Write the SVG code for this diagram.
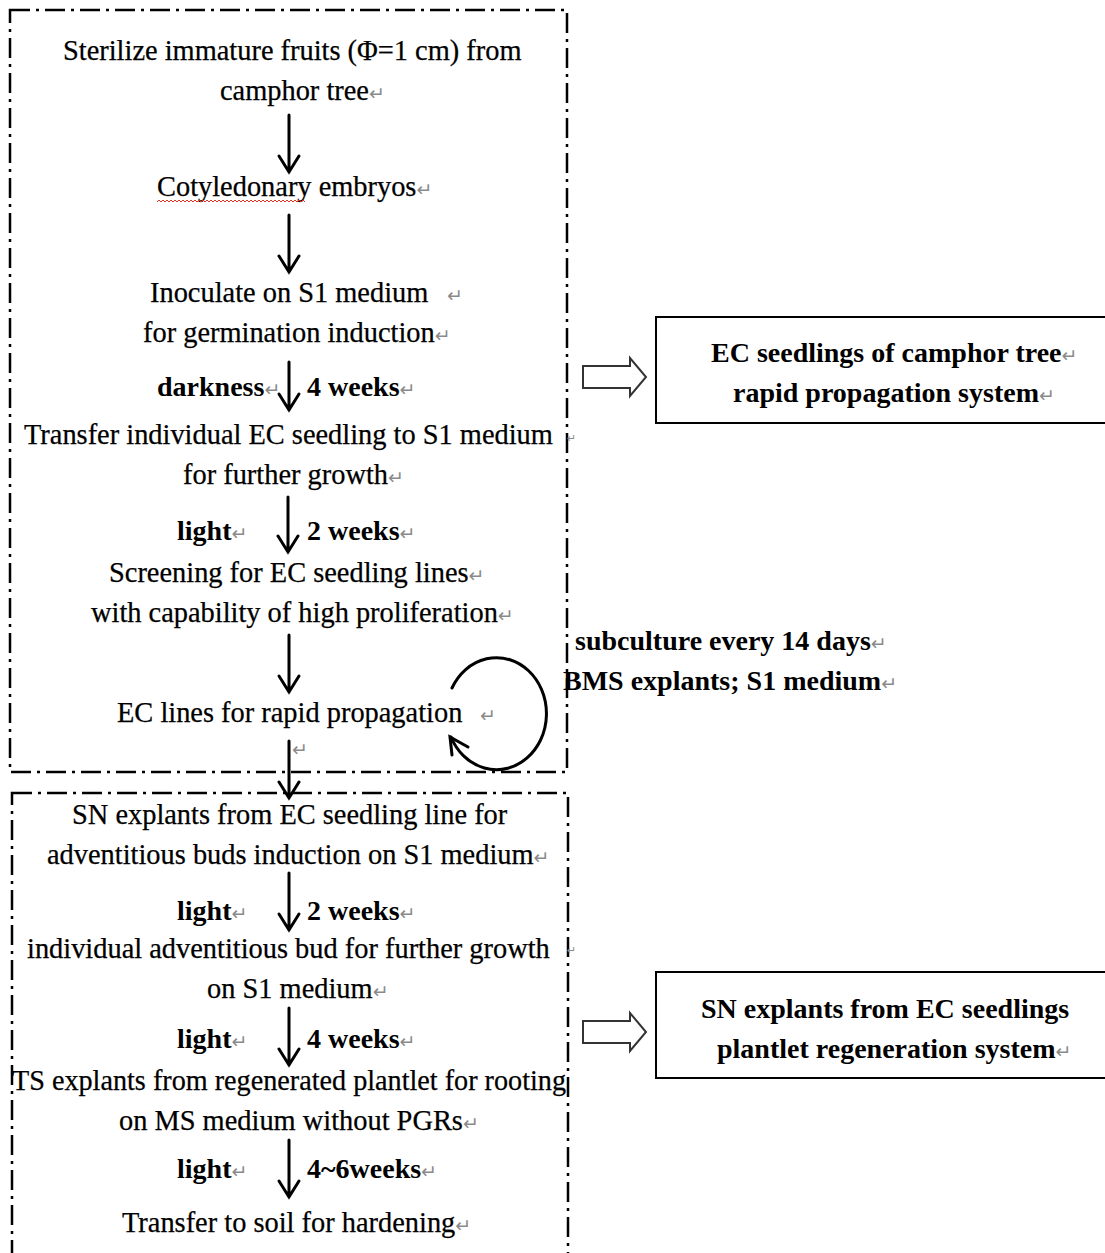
<svg xmlns="http://www.w3.org/2000/svg" width="1105" height="1253" viewBox="0 0 1105 1253">
<style>
.t{font-family:"Liberation Serif","Times New Roman",serif;font-size:28.4px;fill:#000;stroke:#000;stroke-width:0.25}
.b{font-family:"Liberation Serif","Times New Roman",serif;font-size:28px;font-weight:bold;fill:#000}
.p{font-family:"DejaVu Sans",sans-serif;font-size:19px;font-weight:normal;fill:#8a8a8a;stroke:none}
.frame{fill:none;stroke:#000;stroke-width:2.5;stroke-dasharray:20 6 3 6}
.box{fill:#fff;stroke:#000;stroke-width:2}
.ar{fill:none;stroke:#000;stroke-width:3;stroke-linecap:round;stroke-linejoin:miter}
.hollow{fill:#fff;stroke:#333;stroke-width:2;stroke-linejoin:miter}
</style>
<rect width="1105" height="1253" fill="#fff"/>

<g id="frames">
<rect class="frame" x="10" y="10" width="557" height="762"/>
<rect class="frame" x="12" y="793" width="556" height="500"/>
</g>

<g id="connectors">
<path class="ar" d="M289 115V172M279 156L289 172L299 156"/>
<path class="ar" d="M289 215V272M279 256L289 272L299 256"/>
<path class="ar" d="M289 362V410M279 394L289 410L299 394"/>
<path class="ar" d="M288 497V552M278 536L288 552L298 536"/>
<path class="ar" d="M289 635V692M279 676L289 692L299 676"/>
<path class="ar" d="M289 741V798M279 782L289 798L299 782"/>
<path class="ar" d="M289 873V930M279 914L289 930L299 914"/>
<path class="ar" d="M289 1008V1065M279 1049L289 1065L299 1049"/>
<path class="ar" d="M289 1140V1197M279 1181L289 1197L299 1181"/>
<path class="ar" d="M452 688A50 56 0 1 1 451 737"/>
<path class="ar" d="M452 755L450 737L468 747"/>
<path class="hollow" d="M583 366H630V358L646 377L630 396V388H583Z"/>
<path class="hollow" d="M583 1021H630V1013L646 1032L630 1051V1043H583Z"/>
</g>

<g id="n1">
<text class="t" x="63" y="60">Sterilize immature fruits (Φ=1 cm) from</text>
<text class="t" x="220" y="100">camphor tree<tspan class="p">↵</tspan></text>
</g>
<g id="n2">
<text class="t" x="157" y="196">Cotyledonary embryos<tspan class="p">↵</tspan></text>
<path d="M157 202l2-2l2 2l2-2l2 2l2-2l2 2l2-2l2 2l2-2l2 2l2-2l2 2l2-2l2 2l2-2l2 2l2-2l2 2l2-2l2 2l2-2l2 2l2-2l2 2l2-2l2 2l2-2l2 2l2-2l2 2l2-2l2 2l2-2l2 2l2-2l2 2l2-2l2 2l2-2l2 2l2-2l2 2l2-2l2 2l2-2l2 2l2-2l2 2l2-2l2 2l2-2l2 2l2-2l2 2l2-2l2 2l2-2l2 2l2-2l2 2l2-2l2 2l2-2l2 2l2-2l2 2l2-2l2 2l2-2l2 2l2-2l2 2l2-2l2 2" fill="none" stroke="#e03020" stroke-width="1"/>
</g>
<g id="n3">
<text class="t" x="150" y="302">Inoculate on S1 medium<tspan class="p" x="447">↵</tspan></text>
<text class="t" x="143" y="342">for germination induction<tspan class="p">↵</tspan></text>
</g>
<g id="l1">
<text class="b" x="157" y="396">darkness<tspan class="p">↵</tspan></text>
<text class="b" x="307" y="396">4 weeks<tspan class="p">↵</tspan></text>
</g>
<g id="n4">
<text class="t" x="24" y="444">Transfer individual EC seedling to S1 medium</text>
<text class="p" x="567" y="442" style="font-size:11px">↵</text>
<text class="t" x="183" y="484">for further growth<tspan class="p">↵</tspan></text>
</g>
<g id="l2">
<text class="b" x="177" y="540">light<tspan class="p">↵</tspan></text>
<text class="b" x="307" y="540">2 weeks<tspan class="p">↵</tspan></text>
</g>
<g id="n5">
<text class="t" x="109" y="582">Screening for EC seedling lines<tspan class="p">↵</tspan></text>
<text class="t" x="91" y="622">with capability of high proliferation<tspan class="p">↵</tspan></text>
</g>
<g id="n6">
<text class="t" x="117" y="722">EC lines for rapid propagation<tspan class="p" x="480">↵</tspan></text>
<text class="p" x="292" y="756">↵</text>
</g>
<g id="l3">
<text class="b" x="575" y="650">subculture every 14 days<tspan class="p">↵</tspan></text>
<text class="b" x="563" y="690">BMS explants; S1 medium<tspan class="p">↵</tspan></text>
</g>
<g id="r1">
<rect class="box" x="656" y="317" width="470" height="106"/>
<text class="b" x="711" y="362">EC seedlings of camphor tree<tspan class="p">↵</tspan></text>
<text class="b" x="733" y="402">rapid propagation system<tspan class="p">↵</tspan></text>
</g>
<g id="n7">
<text class="t" x="72" y="824">SN explants from EC seedling line for</text>
<text class="t" x="47" y="864">adventitious buds induction on S1 medium<tspan class="p">↵</tspan></text>
</g>
<g id="l4">
<text class="b" x="177" y="920">light<tspan class="p">↵</tspan></text>
<text class="b" x="307" y="920">2 weeks<tspan class="p">↵</tspan></text>
</g>
<g id="n8">
<text class="t" x="27" y="958">individual adventitious bud for further growth</text>
<text class="p" x="567" y="954" style="font-size:11px">↵</text>
<text class="t" x="207" y="998">on S1 medium<tspan class="p">↵</tspan></text>
</g>
<g id="l5">
<text class="b" x="177" y="1048">light<tspan class="p">↵</tspan></text>
<text class="b" x="307" y="1048">4 weeks<tspan class="p">↵</tspan></text>
</g>
<g id="n9">
<text class="t" x="12" y="1090" textLength="554" lengthAdjust="spacingAndGlyphs">TS explants from regenerated plantlet for rooting</text>
<text class="t" x="119" y="1130">on MS medium without PGRs<tspan class="p">↵</tspan></text>
</g>
<g id="l6">
<text class="b" x="177" y="1178">light<tspan class="p">↵</tspan></text>
<text class="b" x="307" y="1178">4~6weeks<tspan class="p">↵</tspan></text>
</g>
<g id="n10">
<text class="t" x="122" y="1232">Transfer to soil for hardening<tspan class="p">↵</tspan></text>
</g>
<g id="r2">
<rect class="box" x="656" y="972" width="470" height="106"/>
<text class="b" x="701" y="1018">SN explants from EC seedlings</text>
<text class="b" x="717" y="1058">plantlet regeneration system<tspan class="p">↵</tspan></text>
</g>
</svg>
